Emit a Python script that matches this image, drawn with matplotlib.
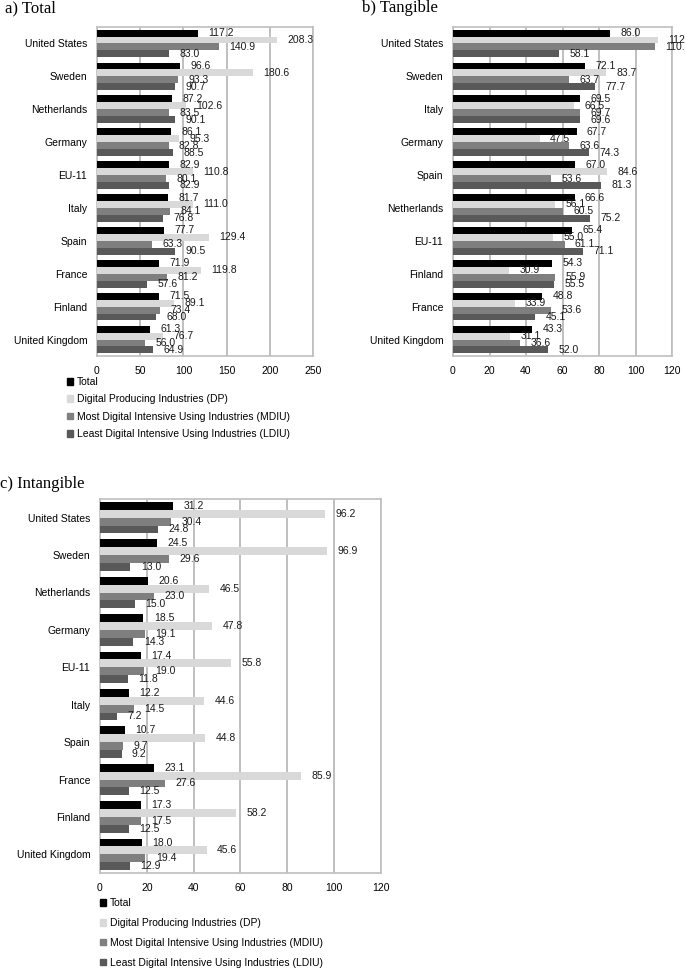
import numpy as np
import matplotlib
matplotlib.use("Agg")
import matplotlib.pyplot as plt
from matplotlib.patches import Patch

plt.rcParams.update({
    "font.family": ["Liberation Sans", "DejaVu Sans"],
    "font.size": 7.5,
})

SERIES = ["Total", "Digital Producing Industries (DP)",
          "Most Digital Intensive Using Industries (MDIU)",
          "Least Digital Intensive Using Industries (LDIU)"]
COLORS = ["#000000", "#d9d9d9", "#7f7f7f", "#595959"]

# a) Total
a_countries = ["United States", "Sweden", "Netherlands", "Germany", "EU-11",
               "Italy", "Spain", "France", "Finland", "United Kingdom"]
a_total = [117.2, 96.6, 87.2, 86.1, 82.9, 81.7, 77.7, 71.9, 71.5, 61.3]
a_dp = [208.3, 180.6, 102.6, 95.3, 110.8, 111.0, 129.4, 119.8, 89.1, 76.7]
a_mdiu = [140.9, 93.3, 83.5, 82.8, 80.1, 84.1, 63.3, 81.2, 73.4, 56.0]
a_ldiu = [83.0, 90.7, 90.1, 88.5, 82.9, 76.8, 90.5, 57.6, 68.0, 64.9]

# b) Tangible
b_countries = ["United States", "Sweden", "Italy", "Germany", "Spain",
               "Netherlands", "EU-11", "Finland", "France", "United Kingdom"]
b_total = [86.0, 72.1, 69.5, 67.7, 67.0, 66.6, 65.4, 54.3, 48.8, 43.3]
b_dp = [112.1, 83.7, 66.5, 47.5, 84.6, 56.1, 55.0, 30.9, 33.9, 31.1]
b_mdiu = [110.5, 63.7, 69.7, 63.6, 53.6, 60.5, 61.1, 55.9, 53.6, 36.6]
b_ldiu = [58.1, 77.7, 69.6, 74.3, 81.3, 75.2, 71.1, 55.5, 45.1, 52.0]

# c) Intangible
c_countries = ["United States", "Sweden", "Netherlands", "Germany", "EU-11",
               "Italy", "Spain", "France", "Finland", "United Kingdom"]
c_total = [31.2, 24.5, 20.6, 18.5, 17.4, 12.2, 10.7, 23.1, 17.3, 18.0]
c_dp = [96.2, 96.9, 46.5, 47.8, 55.8, 44.6, 44.8, 85.9, 58.2, 45.6]
c_mdiu = [30.4, 29.6, 23.0, 19.1, 19.0, 14.5, 9.7, 27.6, 17.5, 19.4]
c_ldiu = [24.8, 13.0, 15.0, 14.3, 11.8, 7.2, 9.2, 12.5, 12.5, 12.9]

GRID = "#b4b4b4"
BAR_H = 0.21


def draw_panel(ax, countries, series, xmax, step):
    y = np.arange(len(countries))
    for k, (vals, col) in enumerate(zip(series, COLORS)):
        pos = y - 1.5 * BAR_H + k * BAR_H
        ax.barh(pos, vals, height=BAR_H, color=col, zorder=3)
        for p, v in zip(pos, vals):
            ax.annotate(f"{v:.1f}", xy=(v, p), xytext=(7.5, 0),
                        textcoords="offset points", ha="left", va="center",
                        fontsize=7.5, color="#1a1a1a", zorder=4,
                        annotation_clip=False)
    ax.set_yticks(y)
    ax.set_yticklabels(countries)
    ax.set_ylim(len(countries) - 0.5, -0.5)
    ax.set_xlim(0, xmax)
    ax.set_xticks(np.arange(0, xmax + step / 2, step))
    ax.tick_params(length=0, pad=7)
    ax.xaxis.grid(True, color=GRID, lw=1.2, zorder=0)
    ax.set_axisbelow(True)
    for s in ax.spines.values():
        s.set_color("#bfbfbf")
        s.set_linewidth(1.2)


def add_legend(fig, x, y, spacing):
    handles = [Patch(color=c) for c in COLORS]
    fig.legend(handles, SERIES, loc="upper left", bbox_to_anchor=(x, y),
               frameon=False, handlelength=0.6, handleheight=0.6,
               handletextpad=0.35, labelspacing=spacing, borderpad=0,
               borderaxespad=0, fontsize=7.5)


W, H = 685, 971
fig = plt.figure(figsize=(W / 100, H / 100), dpi=100)

ax_a = fig.add_axes([97 / W, 1 - 356 / H, 216 / W, 329 / H])
draw_panel(ax_a, a_countries, [a_total, a_dp, a_mdiu, a_ldiu], 250, 50)
ax_b = fig.add_axes([453 / W, 1 - 356 / H, 219 / W, 329 / H])
draw_panel(ax_b, b_countries, [b_total, b_dp, b_mdiu, b_ldiu], 120, 20)
ax_c = fig.add_axes([100 / W, 1 - 873 / H, 281 / W, 374 / H])
draw_panel(ax_c, c_countries, [c_total, c_dp, c_mdiu, c_ldiu], 120, 20)

tfont = dict(family=["Liberation Serif", "DejaVu Serif"], fontsize=12,
             va="center", ha="left")
fig.text(5 / W, 1 - 8 / H, "a) Total", **tfont)
fig.text(362 / W, 1 - 8 / H, "b) Tangible", **tfont)
fig.text(0 / W, 1 - 484 / H, "c) Intangible", **tfont)

add_legend(fig, 67 / W, 1 - 377 / H, 0.7)
add_legend(fig, 100 / W, 1 - 898 / H, 0.95)

fig.savefig("out.png", dpi=100)
